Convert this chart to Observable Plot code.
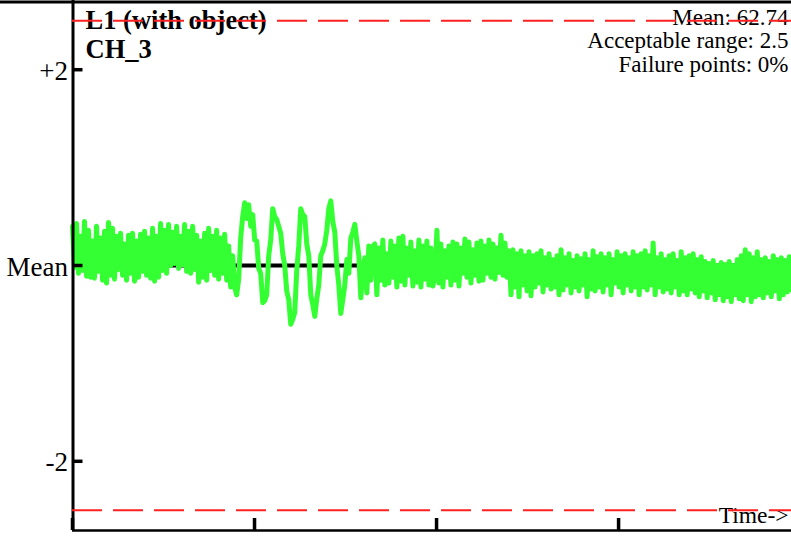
<!DOCTYPE html>
<html><head><meta charset="utf-8">
<script src="https://cdn.jsdelivr.net/npm/d3@7"></script>
<script src="https://cdn.jsdelivr.net/npm/@observablehq/plot@0.6"></script>
<style>html,body{margin:0;padding:0;background:#fff;}#chart{width:791px;height:539px;overflow:hidden;}</style>
</head><body><div id="chart"></div>
<script>
const titleLines = ["L1 (with object)", "CH_3"];
const infoLines = ["Mean: 62.74", "Acceptable range: 2.5", "Failure points: 0%"];
const yTickValues = [2, 0, -2];
const yTickLabels = ["+2", "Mean", "-2"];
const limitValues = [2.5, -2.5];
const timeTicks = [0, 10, 20, 30];
const xLabel = "Time->";
const sampleInterval = 0.11;
// deviation from the mean, one reading per sample
const deviation = [
 0.40,-0.02,0.43,-0.08,0.30,-0.05,0.45,-0.11,0.36,-0.12,
 0.25,-0.13,0.40,-0.06,0.28,-0.15,0.35,-0.18,0.44,-0.10,
 0.38,-0.14,0.30,-0.04,0.33,-0.10,0.22,-0.15,0.31,-0.08,
 0.33,-0.16,0.25,-0.12,0.32,-0.06,0.35,-0.10,0.28,-0.13,
 0.38,-0.16,0.30,-0.12,0.43,-0.05,0.36,-0.08,0.42,0.00,
 0.34,0.02,0.40,-0.03,0.30,0.01,0.42,-0.06,0.35,-0.08,
 0.40,-0.04,0.31,-0.17,0.25,-0.12,0.33,-0.15,0.38,-0.05,
 0.30,-0.10,0.36,-0.14,0.28,-0.08,0.32,-0.15,0.20,-0.22,
 0.10,-0.22,-0.30,-0.14,0.28,0.50,0.64,0.48,0.62,0.40,
 0.52,0.26,0.25,-0.03,-0.08,-0.38,-0.36,-0.30,0.10,0.26,
 0.58,0.50,0.47,0.40,0.33,0.12,0.00,-0.26,-0.35,-0.60,
 -0.55,-0.48,-0.05,0.20,0.58,0.52,0.50,0.22,0.10,-0.30,
 -0.40,-0.52,-0.34,-0.20,0.10,0.15,0.22,0.36,0.58,0.66,
 0.45,0.34,0.00,-0.20,-0.49,-0.35,-0.20,0.06,-0.08,0.28,
 0.34,0.42,0.25,0.10,-0.33,-0.05,0.08,-0.28,0.20,-0.15,
 0.20,
 0.22,-0.30,0.18,-0.15,0.26,-0.20,0.12,-0.18,0.25,-0.12,
 0.20,-0.22,0.28,-0.16,0.30,-0.20,0.18,-0.10,0.24,-0.21,
 0.15,-0.17,0.26,-0.22,0.20,-0.14,0.25,-0.20,0.18,-0.21,
 -0.10,0.36,-0.18,0.22,-0.22,0.15,-0.12,0.20,-0.20,0.24,
 -0.15,0.22,-0.21,0.18,-0.08,0.27,-0.12,0.24,-0.18,0.16,
 -0.10,0.23,-0.16,0.25,-0.15,0.20,-0.08,0.26,-0.12,0.22,
 -0.14,0.18,-0.07,0.31,-0.10,0.23,-0.12,0.15,-0.30,
 0.16,-0.22,0.12,-0.32,0.15,-0.20,0.10,-0.26,0.14,-0.31,
 0.10,-0.22,0.12,-0.18,0.15,-0.27,0.08,-0.20,0.12,-0.24,
 0.06,-0.22,0.10,-0.30,0.16,-0.25,0.08,-0.20,0.12,-0.28,
 0.05,-0.22,0.10,-0.26,0.07,-0.20,0.12,-0.32,0.06,-0.24,
 0.15,-0.26,0.09,-0.22,0.12,
 -0.27,0.08,-0.20,0.12,-0.30,0.06,-0.18,0.14,-0.22,0.10,
 -0.28,0.12,-0.20,0.08,-0.26,0.14,-0.22,0.10,-0.30,0.12,
 -0.22,0.15,-0.25,0.10,-0.20,0.23,-0.30,0.08,-0.22,0.12,
 -0.27,0.06,-0.24,0.10,-0.28,0.12,-0.22,0.05,-0.30,0.14,
 -0.26,0.08,-0.30,0.10,-0.24,0.12,-0.28,0.06,-0.32,0.09,
 -0.26,0.04,-0.33,0.02,-0.28,0.05,-0.35,0.00,-0.30,0.03,
 -0.36,0.01,-0.32,0.04,-0.37,0.00,-0.30,0.06,-0.34,0.10,
 -0.36,0.16,-0.30,0.12,-0.37,0.08,-0.32,0.14,-0.30,0.06,
 -0.33,0.08,-0.28,0.04,-0.32,0.10,-0.26,0.06,-0.34,0.08,
 -0.30,0.05,-0.27,0.09,-0.25
];
const series = deviation.map((v, i) => ({t: i * sampleInterval, v}));

const Y_EXT = 2.707;
const X_MAX = 39.5;
const PX_PER_T = (791 - 72) / X_MAX;
const PX_PER_V = 530 / (2 * Y_EXT);
const serif = "'Liberation Serif', 'Times New Roman', serif";

const marks = [
  Plot.ruleY([Y_EXT], {x1: -72 / PX_PER_T, x2: X_MAX, stroke: "black", strokeWidth: 3, dy: 1.5}),
  Plot.ruleY([0], {x1: 0, x2: X_MAX, stroke: "black", strokeWidth: 4}),
  Plot.line(series, {x: "t", y: "v", stroke: "#33ff33", strokeWidth: 5, strokeLinejoin: "round"}),
  Plot.ruleX([0], {stroke: "black", strokeWidth: 3, dx: 0.5}),
  Plot.ruleY([-Y_EXT], {x1: 0, x2: X_MAX, stroke: "black", strokeWidth: 2.5}),
  Plot.ruleX(timeTicks, {y1: -Y_EXT, y2: -Y_EXT + 12 / PX_PER_V, stroke: "black", strokeWidth: 3.5}),
  Plot.ruleY(yTickValues, {x1: 0, x2: 10.5 / PX_PER_T, stroke: "black", strokeWidth: 3.5}),
  Plot.text(yTickValues, {x: 0, y: d => d, text: (d, i) => yTickLabels[i], textAnchor: "end", lineAnchor: "bottom", dx: -4.5, dy: 10, fontSize: 27, fill: "black"}),
  ...titleLines.map((s, i) => Plot.text([s], {frameAnchor: "top-left", text: d => d, textAnchor: "start", lineAnchor: "bottom", dx: 13, dy: 28 + 29 * i, fontSize: 26.5, fontWeight: "bold", fill: "black"})),
  ...infoLines.map((s, i) => Plot.text([s], {frameAnchor: "top-right", text: d => d, textAnchor: "end", lineAnchor: "bottom", dx: -3, dy: 24 + 23.5 * i, fontSize: 23, fill: "black"})),
  Plot.text([xLabel], {frameAnchor: "bottom-right", text: d => d, textAnchor: "end", lineAnchor: "bottom", dx: -3, dy: -8, fontSize: 23.5, fill: "black"}),
  Plot.ruleY(limitValues, {x1: 0, x2: X_MAX, stroke: "#ff2020", strokeWidth: 2, strokeDasharray: "30,11"})
];

const chart = Plot.plot({
  width: 791,
  height: 539,
  marginLeft: 72,
  marginRight: 0,
  marginTop: 0,
  marginBottom: 9,
  x: {domain: [0, X_MAX], axis: null},
  y: {domain: [-Y_EXT, Y_EXT], axis: null},
  style: {background: "white", fontFamily: serif, overflow: "visible"},
  marks
});
document.getElementById("chart").appendChild(chart);
</script>
</body></html>
